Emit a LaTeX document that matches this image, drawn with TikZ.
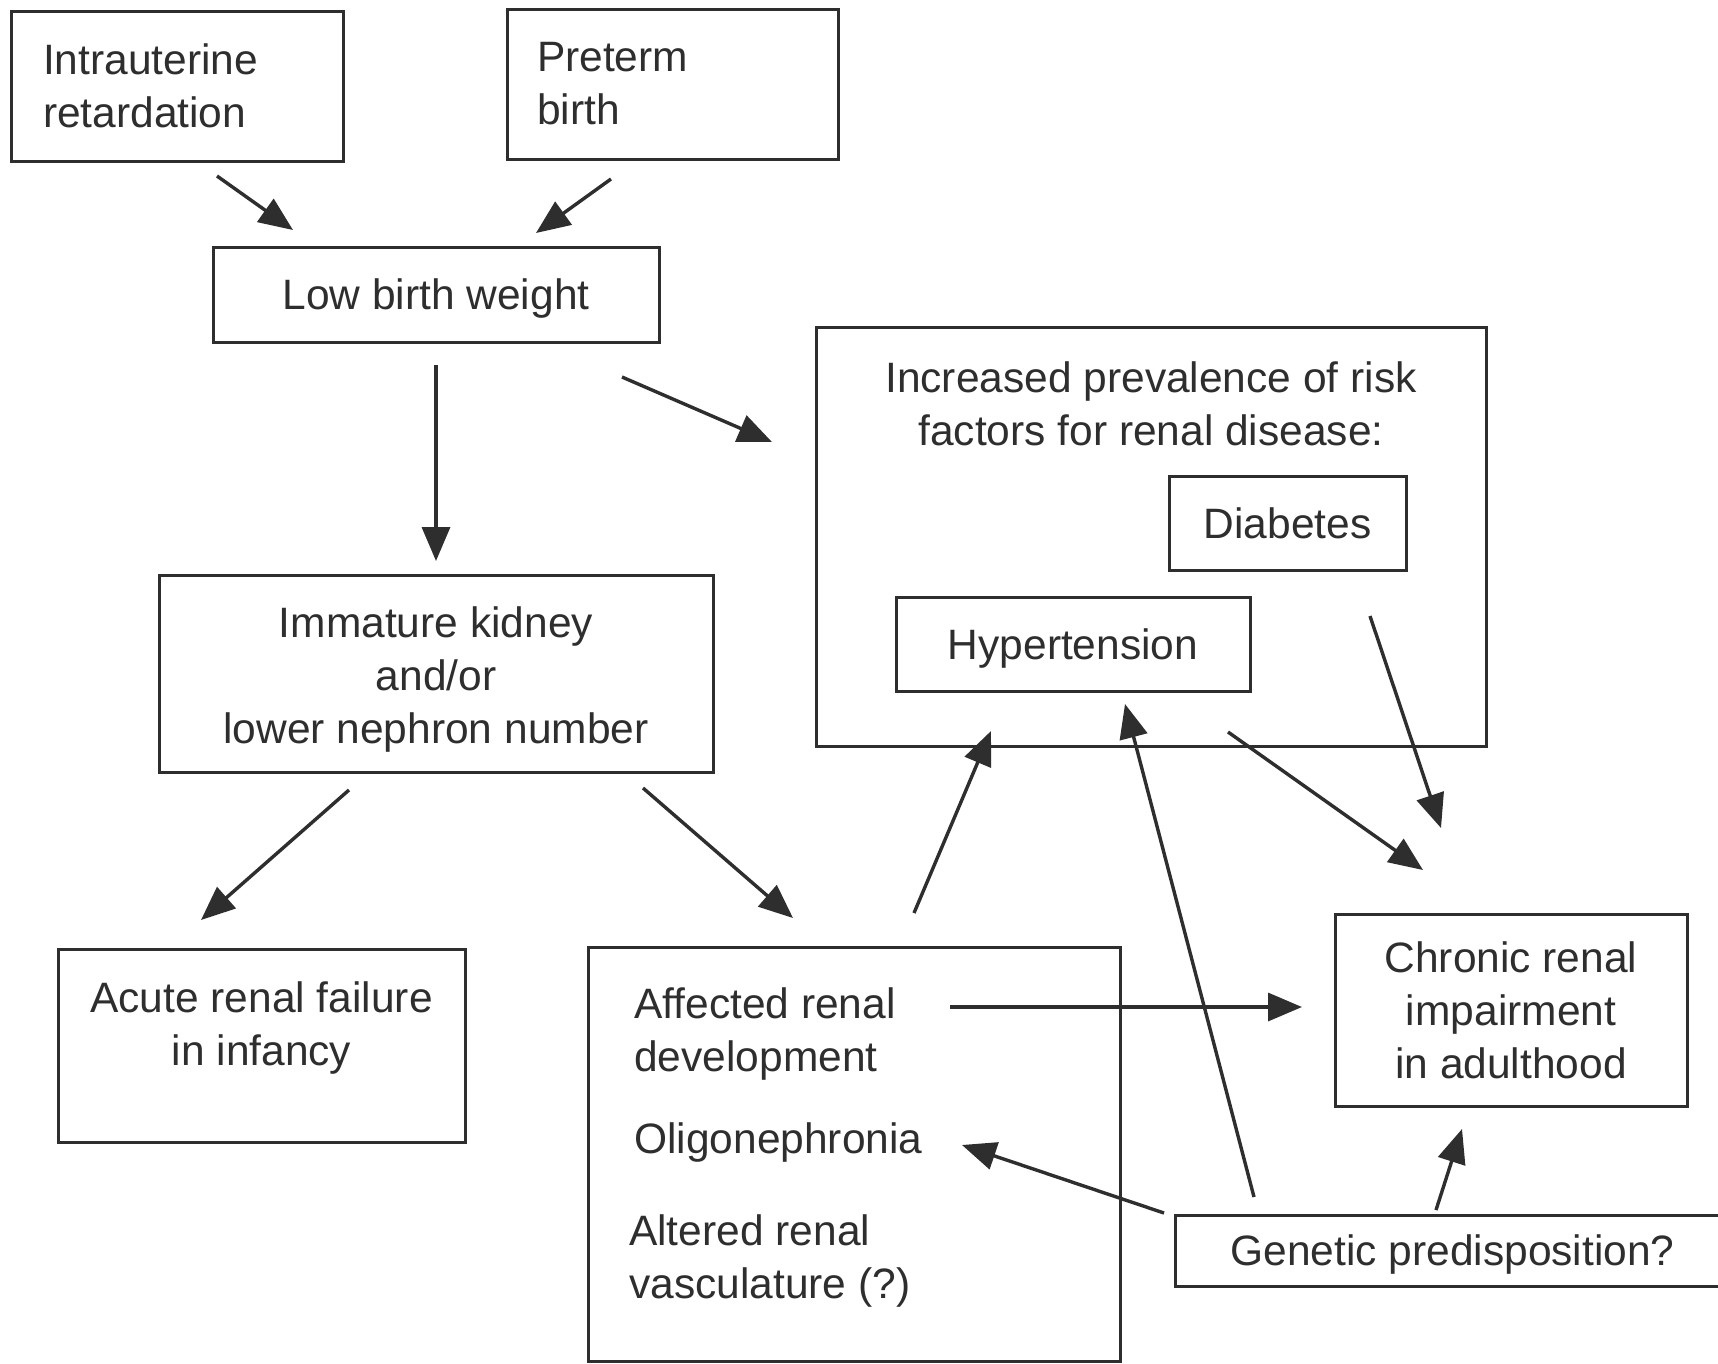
\documentclass[tikz,border=0pt]{standalone}
\usepackage{fontspec}
\setmainfont{Liberation Sans}
\usetikzlibrary{arrows.meta,calc}
\definecolor{ink}{HTML}{2E2E2E}
\newcommand\diagfont{\fontsize{42.5}{53}\selectfont}
\begin{document}
\begin{tikzpicture}[x=1pt,y=-1pt,
  bx/.style={draw=ink, line width=3pt, rectangle, inner sep=0pt, outer sep=0pt, font=\diagfont, text=ink},
  arr/.style={draw=ink, line width=3.4pt, -{Triangle[length=34pt,width=28pt]}},
  txt/.style={inner sep=0pt, font=\diagfont, text=ink}]
\useasboundingbox (0,0) rectangle (1718,1363);
\fill[white] (0,0) rectangle (1718,1363);
\clip (0,0) rectangle (1718,1363);

\node[bx, minimum width=332pt, minimum height=150pt, text width=268pt, align=left] (intra) at (177,86) {Intrauterine\\retardation};
\node[bx, minimum width=331pt, minimum height=150pt, text width=271pt, align=left] (preterm) at (672.5,84) {Preterm\\birth};
\node[bx, minimum width=446pt, minimum height=95pt, text depth=0pt] (low) at (436,294.5) {Low birth weight};
\node[bx, minimum width=670pt, minimum height=419pt] (big) at (1151,536.5) {};
\node[txt, align=center] (bigtxt) at (1151,404) {Increased prevalence of risk\\factors for renal disease:};
\node[bx, minimum width=237pt, minimum height=94pt] (diab) at (1287.5,523) {Diabetes};
\node[bx, minimum width=354pt, minimum height=94pt, text depth=0pt] (hyper) at (1073,644) {Hypertension};
\node[bx, minimum width=554pt, minimum height=197pt] (imm) at (436,673.5) {};
\node[txt, align=center] (immtxt) at (436,679) {Immature kidney\\and/or\\lower nephron number};
\node[bx, minimum width=407pt, minimum height=193pt] (acute) at (261.5,1045.5) {};
\node[txt, align=center] (acutetxt) at (261.5,1028) {Acute renal failure\\in infancy};
\node[bx, minimum width=532pt, minimum height=414pt] (aff) at (854,1154) {};
\node[txt, align=left, anchor=west] (afftxt) at (634,1034) {Affected renal\\development};
\node[txt, anchor=west] (oligo) at (634,1142) {Oligonephronia};
\node[txt, align=left, anchor=west] (alt) at (629,1261) {Altered renal\\vasculature (?)};
\node[bx, minimum width=352pt, minimum height=192pt, align=center] (chronic) at (1511,1010) {Chronic renal\\impairment\\in adulthood};
\node[bx, minimum width=555pt, minimum height=71pt, text depth=0pt] (gen) at (1452.5,1250.5) {Genetic predisposition?};

\draw[arr] ($(intra.south)+(40,15)$) -- ($(low.north)+(-143,-17)$);
\draw[arr] ($(preterm.south)+(-61.5,20)$) -- ($(low.north)+(100,-14)$);
\draw[arr] ($(low.south)+(0,23)$) -- ($(imm.north)+(0,-14)$);
\draw[arr] ($(low.south east)+(-37,35)$) -- ($(big.west)+(-44,-94.5)$);
\draw[arr] ($(imm.south)+(-87,18)$) -- ($(acute.north)+(-60.5,-29)$);
\draw[arr] ($(imm.south)+(207,16)$) -- ($(aff.north)+(-61,-29)$);
\draw[arr] ($(aff.north)+(60,-34)$) -- ($(hyper.south)+(-82,40)$);
\draw[arr] ($(gen.north west)+(79,-18)$) -- ($(hyper.south)+(52,13)$);
\draw[arr] ($(big.south)+(77,-14)$) -- ($(chronic.north)+(-88,-44)$);
\draw[arr] ($(diab.south)+(82.5,46)$) -- ($(chronic.north)+(-70,-86)$);
\draw[arr] ($(aff.north)+(96,60)$) -- ($(chronic.west)+(-33,-3)$);
\draw[arr] ($(gen.north west)+(-11,-2)$) -- ($(aff.north)+(108,198)$);
\draw[arr] ($(gen.north)+(-16.5,-5)$) -- ($(chronic.south)+(-49,23)$);
\end{tikzpicture}
\end{document}
